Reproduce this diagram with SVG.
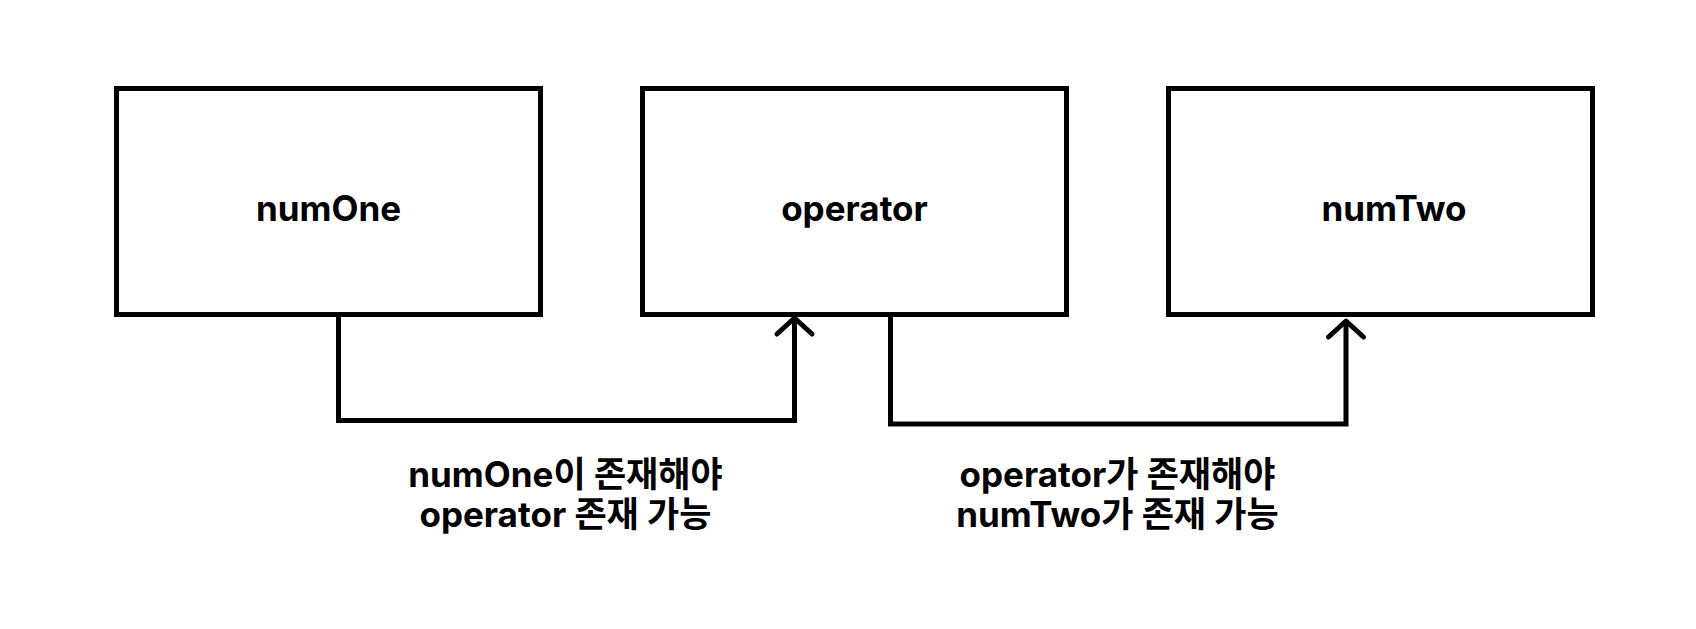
<svg xmlns="http://www.w3.org/2000/svg" width="1696" height="629" viewBox="0 0 1696 629">
<style>
.box{fill:#fff;stroke:#000;stroke-width:5}
.lbl{font-family:Inter,"Noto Sans CJK KR",sans-serif;font-weight:700;font-size:35px;fill:#000;text-anchor:middle}
.conn{fill:none;stroke:#000;stroke-width:5}
.head{fill:none;stroke:#000;stroke-width:5;stroke-linecap:round;stroke-linejoin:round}
</style>
<rect x="0" y="0" width="1696" height="629" fill="#fff"/>
<g id="numOne">
<rect class="box" x="116.5" y="88.5" width="424" height="226"/>
<text class="lbl" x="328.5" y="221">numOne</text>
</g>
<g id="operator">
<rect class="box" x="642.5" y="88.5" width="424" height="226"/>
<text class="lbl" x="854.5" y="221">operator</text>
</g>
<g id="numTwo">
<rect class="box" x="1168.5" y="88.5" width="424" height="226"/>
<text class="lbl" x="1394" y="221">numTwo</text>
</g>
<g id="connectors">
<path class="conn" d="M338.5 317 V420.5 H794.5 V319"/>
<path class="head" d="M777 334 L794.5 318 L812 334"/>
<path class="conn" d="M890.5 317 V424 H1346 V322"/>
<path class="head" d="M1328.5 337 L1346 321 L1363.5 337"/>
</g>
<g id="labels">
<text class="lbl" x="565.5" y="487">numOne이 존재해야</text>
<text class="lbl" x="565.5" y="527">operator 존재 가능</text>
<text class="lbl" x="1117.5" y="487">operator가 존재해야</text>
<text class="lbl" x="1117.5" y="527">numTwo가 존재 가능</text>
</g>
</svg>
